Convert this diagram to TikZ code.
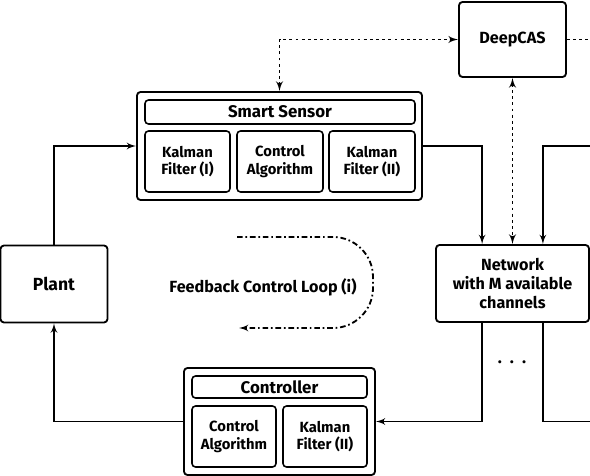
\documentclass[tikz,border=0pt]{standalone}
\usepackage{fontspec}
\setmainfont{Fira Sans}
\usetikzlibrary{arrows}

\begin{document}
\begin{tikzpicture}
\tikzset{block/.style = {shape=rectangle,draw,rounded corners=2.5pt,line width=1.3pt,align=center,inner sep=0pt,font=\fontsize{11.5}{13.5}\selectfont\bfseries}}
\tikzset{part/.style = {block,line width=1.1pt,minimum height=1.525cm,font=\fontsize{10.5}{12.5}\selectfont\bfseries}}
\tikzset{title/.style = {block,line width=1.1pt,font=\fontsize{12}{14}\selectfont\bfseries}}
\tikzset{edge/.style = {->,> = latex',line width=1.3pt}}
\tikzset{link/.style = {<->,> = latex',line width=1.4pt,dash pattern=on 2pt off 2.4pt}}
\useasboundingbox (0,0) rectangle (14.75,-11.9);
% blocks
\node[block, minimum width=2.675cm, minimum height=1.925cm, font=\fontsize{12.5}{14}\selectfont\bfseries] (plant) at (1.35,-7.1) {Plant};
\node[block, minimum width=7.125cm, minimum height=2.7cm] (sensor) at (6.9875,-3.65) {};
\node[title, minimum width=6.75cm, minimum height=0.6cm] (sensortitle) at (7.0,-2.8) {Smart Sensor};
\node[part, minimum width=2.125cm] (kfa) at (4.6875,-4.0375) {Kalman\\Filter (I)};
\node[part, minimum width=2.15cm] (algs) at (7.0,-4.0375) {Control\\Algorithm};
\node[part, minimum width=2.15cm] (kfb) at (9.3,-4.0375) {Kalman\\Filter (II)};
\node[block, minimum width=2.675cm, minimum height=1.875cm] (deep) at (12.8125,-0.9875) {DeepCAS};
\node[block, minimum width=3.825cm, minimum height=1.925cm] (net) at (12.8125,-7.0875) {Network\\with M available\\channels};
\node[block, minimum width=4.775cm, minimum height=2.675cm] (ctrl) at (6.9875,-10.5375) {};
\node[title, minimum width=4.375cm, minimum height=0.55cm] (ctrltitle) at (6.9875,-9.675) {Controller};
\node[part, minimum width=2.1cm] (algc) at (5.85,-10.9125) {Control\\Algorithm};
\node[part, minimum width=2.1cm] (kfc) at (8.125,-10.9125) {Kalman\\Filter (II)};
\node[font=\fontsize{11.5}{13}\selectfont\bfseries] (loop) at (6.575,-7.175) {Feedback Control Loop (i)};
\node[font=\fontsize{12}{13}\selectfont\bfseries] (dots) at (12.8,-9.05) {.\ \ .\ \ .};
% free ends
\coordinate (deepout) at (14.75,-0.9875);
\coordinate (chin) at (14.75,-3.65);
\coordinate (chout) at (14.75,-10.5375);
%edges
\draw[edge] (plant.north) |- (sensor.west);
\draw[edge] (sensor.east) -| ([xshift=-0.76cm]net.north);
\draw[edge] (chin) -| ([xshift=0.76cm]net.north);
\draw[edge] ([xshift=-0.76cm]net.south) |- (ctrl.east);
\draw[line width=1.3pt] ([xshift=0.76cm]net.south) |- (chout);
\draw[edge] (ctrl.west) -| (plant.south);
\draw[link] (sensor.north) |- (deep.west);
\draw[link] (deep.south) -- (net.north);
\draw[line width=1.4pt,dash pattern=on 2pt off 2.4pt] (deep.east) -- (deepout);
\draw[->,> = latex',line width=1.3pt,dash pattern=on 4pt off 2pt on 1.2pt off 2pt,rounded corners=1cm] (5.925,-5.925) -- (9.325,-5.925) -- (9.325,-8.2) -- (5.975,-8.2);
\end{tikzpicture}
\end{document}
